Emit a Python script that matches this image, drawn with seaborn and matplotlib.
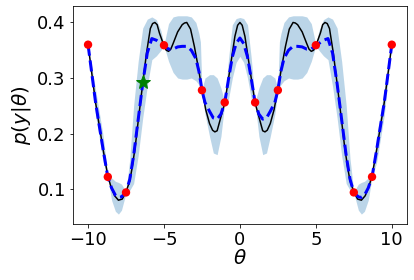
import numpy as np
import pandas as pd
import matplotlib
matplotlib.use("Agg")
import matplotlib.pyplot as plt
import seaborn as sns

# true likelihood curve
theta_true = [-10, -9.5, -9.0, -8.7, -8.5, -8.25, -8.0, -7.75, -7.5, -7.25, -7.1, -6.9,
              -6.7, -6.4, -6.15, -5.9, -5.75, -5.6, -5.45, -5.3, -5.0, -4.85, -4.7, -4.55,
              -4.4, -4.1, -3.8, -3.65, -3.5, -3.25, -3.0, -2.75, -2.5, -2.25, -2.0, -1.8,
              -1.65, -1.5, -1.33, -1.0, -0.66, -0.33, -0.15, 0.0,
              0.15, 0.33, 0.66, 1.0, 1.33, 1.5, 1.65, 1.8, 2.0, 2.25, 2.5, 2.75, 3.0, 3.25,
              3.5, 3.65, 3.8, 4.1, 4.4, 4.55, 4.7, 4.85, 5.0, 5.3, 5.45, 5.6, 5.75, 5.9,
              6.15, 6.4, 6.7, 6.9, 7.1, 7.25, 7.5, 7.75, 8.0, 8.25, 8.5, 8.7, 9.0, 9.5, 10]
p_true = [0.360, 0.255, 0.170, 0.124, 0.105, 0.088, 0.080, 0.082, 0.095, 0.115, 0.138, 0.175,
          0.222, 0.290, 0.345, 0.389, 0.398, 0.400, 0.396, 0.381, 0.358, 0.350, 0.348, 0.352,
          0.362, 0.383, 0.396, 0.399, 0.400, 0.388, 0.357, 0.320, 0.280, 0.243, 0.218, 0.206,
          0.203, 0.205, 0.222, 0.255, 0.315, 0.375, 0.395, 0.400,
          0.395, 0.375, 0.315, 0.255, 0.222, 0.205, 0.203, 0.206, 0.218, 0.243, 0.280, 0.320,
          0.357, 0.388, 0.400, 0.399, 0.396, 0.383, 0.362, 0.352, 0.348, 0.350, 0.358, 0.381,
          0.396, 0.400, 0.398, 0.389, 0.345, 0.290, 0.222, 0.175, 0.138, 0.115, 0.095, 0.082,
          0.080, 0.088, 0.105, 0.124, 0.170, 0.255, 0.360]

# GP surrogate: mean and band
theta_gp = [-10, -9.5, -9.0, -8.7, -8.45, -8.2, -8.0, -7.8, -7.5, -7.25, -7.0, -6.7, -6.4,
            -6.1, -5.8, -5.5, -5.2, -5.0, -4.7, -4.4, -4.1, -3.8, -3.5, -3.2, -2.9, -2.7,
            -2.6, -2.5, -2.3, -2.0, -1.75, -1.5, -1.25, -1.0, -0.75, -0.5, -0.25, 0.0,
            0.25, 0.5, 0.75, 1.0, 1.25, 1.5, 1.75, 2.0, 2.3, 2.5, 2.6, 2.7, 2.9, 3.2, 3.5,
            3.8, 4.1, 4.4, 4.7, 5.0, 5.2, 5.5, 5.8, 6.1, 6.4, 6.7, 7.0, 7.25, 7.5, 7.8, 8.0,
            8.2, 8.45, 8.7, 9.0, 9.5, 10]
gp_mean = [0.360, 0.255, 0.170, 0.122, 0.102, 0.089, 0.085, 0.086, 0.094, 0.118, 0.160,
           0.225, 0.290, 0.345, 0.371, 0.368, 0.362, 0.359, 0.352, 0.352, 0.356, 0.357,
           0.357, 0.350, 0.335, 0.312, 0.296, 0.278, 0.256, 0.240, 0.228, 0.226, 0.235,
           0.256, 0.298, 0.338, 0.362, 0.372,
           0.362, 0.338, 0.298, 0.256, 0.235, 0.226, 0.228, 0.240, 0.256, 0.278, 0.296,
           0.312, 0.335, 0.350, 0.357, 0.357, 0.356, 0.352, 0.352, 0.359, 0.362, 0.368,
           0.371, 0.345, 0.290, 0.225, 0.160, 0.118, 0.094, 0.086, 0.085, 0.089, 0.102,
           0.122, 0.170, 0.255, 0.360]
gp_lower = [0.360, 0.232, 0.148, 0.121, 0.080, 0.060, 0.055, 0.062, 0.093, 0.098, 0.110,
            0.160, 0.228, 0.285, 0.333, 0.340, 0.350, 0.358, 0.330, 0.310, 0.300, 0.298,
            0.298, 0.300, 0.295, 0.288, 0.283, 0.277, 0.235, 0.195, 0.165, 0.162, 0.195,
            0.255, 0.262, 0.300, 0.328, 0.339,
            0.328, 0.300, 0.262, 0.255, 0.195, 0.162, 0.165, 0.195, 0.235, 0.277, 0.283,
            0.288, 0.295, 0.300, 0.298, 0.298, 0.300, 0.310, 0.330, 0.358, 0.350, 0.340,
            0.333, 0.285, 0.228, 0.160, 0.110, 0.098, 0.093, 0.062, 0.055, 0.060, 0.080,
            0.121, 0.148, 0.232, 0.360]
gp_upper = [0.360, 0.278, 0.195, 0.123, 0.120, 0.114, 0.112, 0.109, 0.095, 0.155, 0.250,
            0.330, 0.390, 0.406, 0.410, 0.405, 0.385, 0.360, 0.398, 0.410, 0.412, 0.412,
            0.412, 0.410, 0.400, 0.380, 0.365, 0.280, 0.300, 0.306, 0.306, 0.300, 0.282,
            0.257, 0.335, 0.396, 0.407, 0.409,
            0.407, 0.396, 0.335, 0.257, 0.282, 0.300, 0.306, 0.306, 0.300, 0.280, 0.365,
            0.380, 0.400, 0.410, 0.412, 0.412, 0.412, 0.410, 0.398, 0.360, 0.385, 0.405,
            0.410, 0.406, 0.390, 0.330, 0.250, 0.155, 0.095, 0.109, 0.112, 0.114, 0.120,
            0.123, 0.195, 0.278, 0.360]

# observed points and next proposal
theta_obs = [-10, -8.7, -7.5, -5.0, -2.5, -1.0, 1.0, 2.5, 5.0, 7.5, 8.7, 10]
p_obs = [0.360, 0.122, 0.094, 0.359, 0.278, 0.256, 0.256, 0.278, 0.359, 0.094, 0.122, 0.360]
theta_next = [-6.36]
p_next = [0.292]

true_df = pd.DataFrame({"theta": theta_true, "p": p_true})
gp_df = pd.DataFrame({"theta": theta_gp, "mean": gp_mean, "lo": gp_lower, "hi": gp_upper})
obs_df = pd.DataFrame({"theta": theta_obs, "p": p_obs})

fig = plt.figure(figsize=(414 / 72, 280 / 72), dpi=72)
ax = fig.add_axes([0.176, 0.2, 0.807, 0.779])

ax.fill_between(gp_df["theta"], gp_df["lo"], gp_df["hi"], color="tab:blue", alpha=0.3,
                linewidth=0, zorder=1)
sns.lineplot(data=true_df, x="theta", y="p", color="black", linewidth=1.5, ax=ax, zorder=2)
sns.lineplot(data=gp_df, x="theta", y="mean", color="blue", linewidth=3, linestyle="--",
             ax=ax, zorder=3)
sns.scatterplot(data=obs_df, x="theta", y="p", color="red", s=70, edgecolor="none",
                ax=ax, zorder=4)
ax.plot(theta_next, p_next, "g*", markersize=15, zorder=5)

ax.set_xticks([-10, -5, 0, 5, 10])
ax.set_yticks([0.1, 0.2, 0.3, 0.4])
ax.tick_params(labelsize=18)
ax.set_xlabel(r"$\theta$", fontsize=20, labelpad=0)
ax.set_ylabel(r"$p(y|\theta)$", fontsize=20)

fig.savefig("out.png", dpi=72)
